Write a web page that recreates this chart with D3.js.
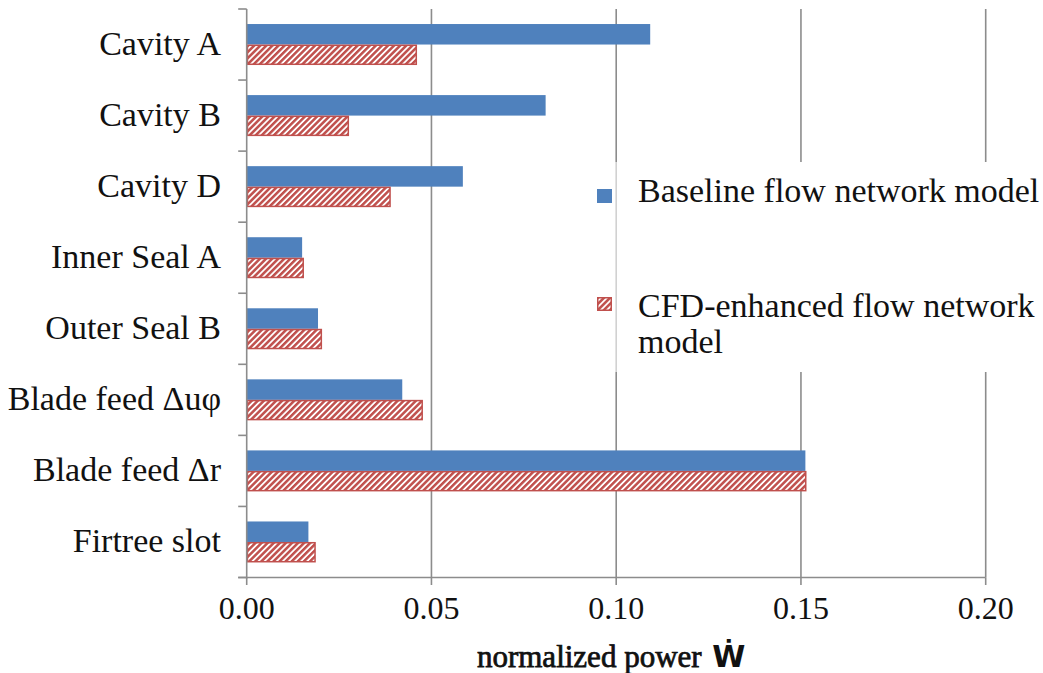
<!DOCTYPE html>
<html>
<head>
<meta charset="utf-8">
<script src="https://cdn.jsdelivr.net/npm/d3@7/dist/d3.min.js"></script>
<style>
  html, body { margin: 0; padding: 0; background: #fff; }
  svg { display: block; }
  text { font-family: "Liberation Serif", "Times New Roman", serif; fill: #111; }
</style>
</head>
<body>
<svg id="chart" width="1043" height="673"></svg>
<script>
// Loss sources (top to bottom) and normalized power for each model
const categories = [
  "Cavity A", "Cavity B", "Cavity D", "Inner Seal A",
  "Outer Seal B", "Blade feed \u0394u\u03C6", "Blade feed \u0394r", "Firtree slot"
];
const baselineValues = [0.1092, 0.0809, 0.0585, 0.0150, 0.0193, 0.0421, 0.1512, 0.0167];
const cfdValues      = [0.0461, 0.0277, 0.0390, 0.0155, 0.0204, 0.0477, 0.1515, 0.0187];
const seriesNames = ["Baseline flow network model", "CFD-enhanced flow network model"];
const xTicks = [0, 0.05, 0.10, 0.15, 0.20];
const xLabel = "normalized power ";

const svg = d3.select("#chart");
const plotL = 246.7, plotR = 985.7, plotT = 9, plotB = 577.5;

const x = d3.scaleLinear().domain([0, 0.2]).range([plotL, plotR]);
const y = d3.scaleBand().domain(categories).range([plotT, plotB]).padding(0);
const barH = 20.5;

// hatch pattern for the CFD-enhanced series
const defs = svg.append("defs");
const pat = defs.append("pattern")
  .attr("id", "hatch")
  .attr("patternUnits", "userSpaceOnUse")
  .attr("width", 4.3).attr("height", 4.3)
  .attr("patternTransform", "rotate(45)");
pat.append("rect").attr("width", 4.3).attr("height", 4.3).attr("fill", "#fff");
pat.append("rect").attr("width", 2.5).attr("height", 4.3).attr("fill", "#c0504d");

const gridColor = "#8c8c8c";

// vertical gridlines
svg.append("g").selectAll("line")
  .data(xTicks.slice(1))
  .join("line")
  .attr("x1", d => x(d)).attr("x2", d => x(d))
  .attr("y1", plotT).attr("y2", plotB)
  .attr("stroke", gridColor).attr("stroke-width", 1.6);

// bars
const rows = categories.map((c, i) => ({ c, b: baselineValues[i], f: cfdValues[i] }));
const mid = c => y(c) + y.bandwidth() / 2;

svg.append("g").selectAll("rect")
  .data(rows).join("rect")
  .attr("x", x(0)).attr("y", d => mid(d.c) - barH)
  .attr("width", d => x(d.b) - x(0)).attr("height", barH)
  .attr("fill", "#4f81bd");

svg.append("g").selectAll("rect")
  .data(rows).join("rect")
  .attr("x", x(0) + 0.75).attr("y", d => mid(d.c) + 0.75)
  .attr("width", d => x(d.f) - x(0) - 1.5).attr("height", barH - 1.5)
  .attr("fill", "url(#hatch)")
  .attr("stroke", "#c0504d").attr("stroke-width", 1.5);

// legend (white panel over the grid)
const lg = svg.append("g");
lg.append("rect").attr("x", 610).attr("y", 162).attr("width", 10).attr("height", 210)
  .attr("fill", "#fff").attr("opacity", 0.6);
lg.append("rect").attr("x", 618).attr("y", 162).attr("width", 425).attr("height", 210)
  .attr("fill", "#fff");
lg.append("rect").attr("x", 597).attr("y", 189).attr("width", 15).attr("height", 14)
  .attr("fill", "#4f81bd");
lg.append("rect").attr("x", 597.75).attr("y", 297.75).attr("width", 13.5).attr("height", 12.5)
  .attr("fill", "url(#hatch)").attr("stroke", "#c0504d").attr("stroke-width", 1.5);
lg.append("text").attr("x", 638).attr("y", 202).attr("font-size", 34).text(seriesNames[0]);
const t2 = lg.append("text").attr("x", 638).attr("y", 316.5).attr("font-size", 34);
t2.append("tspan").attr("x", 638).text("CFD-enhanced flow network");
t2.append("tspan").attr("x", 638).attr("dy", 36.5).text("model");

// y axis: line, ticks between categories, labels
const yAxis = svg.append("g");
yAxis.append("line").attr("x1", plotL).attr("x2", plotL).attr("y1", plotT).attr("y2", plotB + 1)
  .attr("stroke", gridColor).attr("stroke-width", 1.6);
const bounds = categories.map(c => y(c)).concat([plotB]);
yAxis.selectAll("line.tk").data(bounds).join("line").attr("class", "tk")
  .attr("x1", plotL - 8.5).attr("x2", plotL).attr("y1", d => d).attr("y2", d => d)
  .attr("stroke", gridColor).attr("stroke-width", 1.6);
yAxis.selectAll("text").data(categories).join("text")
  .attr("x", 221).attr("y", d => mid(d) + 10)
  .attr("text-anchor", "end").attr("font-size", 34)
  .text(d => d);

// x axis
const xAxis = svg.append("g");
xAxis.append("line").attr("x1", plotL - 8.5).attr("x2", plotR).attr("y1", plotB).attr("y2", plotB)
  .attr("stroke", gridColor).attr("stroke-width", 1.6);
xAxis.selectAll("line.tk").data(xTicks).join("line").attr("class", "tk")
  .attr("x1", d => x(d)).attr("x2", d => x(d)).attr("y1", plotB).attr("y2", plotB + 7.5)
  .attr("stroke", gridColor).attr("stroke-width", 1.6);
xAxis.selectAll("text").data(xTicks).join("text")
  .attr("x", d => x(d)).attr("y", 619)
  .attr("text-anchor", "middle").attr("font-size", 32)
  .text(d => d3.format(".2f")(d));

// axis title: heavier serif text followed by a bold dotted W
const xl = svg.append("text").attr("x", x(0.1) - 5).attr("y", 667)
  .attr("text-anchor", "middle").attr("font-size", 31);
xl.append("tspan").attr("stroke", "#111").attr("stroke-width", 0.75).text(xLabel);
xl.append("tspan").attr("font-family", "DejaVu Sans").attr("font-weight", "bold")
  .attr("font-size", 30).attr("dx", 3).text("\u1E86");
</script>
</body>
</html>
